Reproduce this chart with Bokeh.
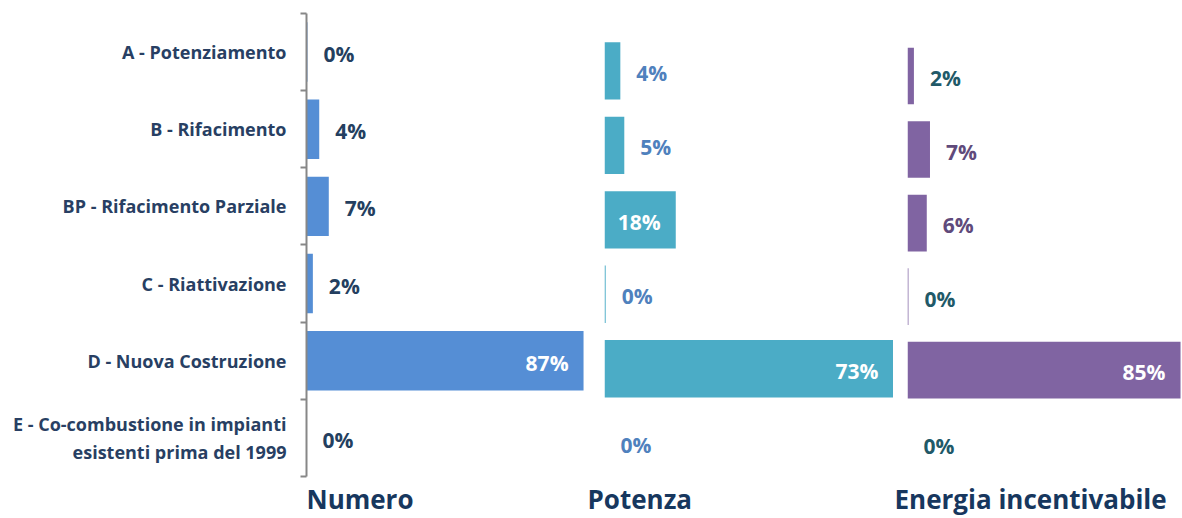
from bokeh.plotting import figure
from bokeh.models import ColumnDataSource, Range1d, LinearAxis, FixedTicker, Title
from bokeh.layouts import row
from bokeh.core.properties import value
from bokeh.embed import file_html
from bokeh.resources import INLINE

# ---------------- data ----------------
categories = [
    "A - Potenziamento",
    "B - Rifacimento",
    "BP - Rifacimento Parziale",
    "C - Riattivazione",
    "D - Nuova Costruzione",
    "E - Co-combustione in impianti\nesistenti prima del 1999",
]
numero = [0.3, 4, 7, 2, 87, 0]
potenza = [4, 5, 18, 0.3, 73, 0]
energia = [2, 7, 6, 0.3, 85, 0]
panel_titles = ["Numero", "Potenza", "Energia incentivabile"]

# ---------------- styles ----------------
FONT = "Open Sans"
CAT_COLOR = "#283f63"
TITLE_COLOR = "#17375e"
AXIS_COLOR = "#878787"
numero_label_colors = ["#243f60"] * 6
potenza_label_colors = ["#4f81bd"] * 6
energia_label_colors = ["#215968", "#604a7b", "#604a7b", "#215968", "#215968", "#215968"]
INSIDE_MIN = 15

N = len(categories)
# category slot (top to bottom): first category in the top band
slot = [N - i - 0.5 for i in range(N)]

FRAME_TOP = 13
FRAME_H = 467
BORDER_BOTTOM = 34


def make_panel(vals, title, bar_color, label_colors, frame_w, xmax, yr,
               b_left, title_offset, with_axis):
    p = figure(y_range=Range1d(*yr), x_range=Range1d(0, xmax),
               frame_width=frame_w, frame_height=FRAME_H,
               min_border_left=b_left, min_border_right=0,
               min_border_top=FRAME_TOP, min_border_bottom=BORDER_BOTTOM,
               output_backend="svg", toolbar_location=None,
               x_axis_location=None, y_axis_location=None)
    p.outline_line_color = None
    p.grid.visible = False
    p.background_fill_color = "white"
    p.border_fill_color = "white"

    src = ColumnDataSource(dict(y=slot, val=vals))
    p.hbar(y="y", left=0, right="val", height=0.77, source=src,
           fill_color=bar_color, line_color=None)

    labels = [f"{round(v)}%" for v in vals]
    out_idx = [i for i, v in enumerate(vals) if v < INSIDE_MIN]
    in_idx = [i for i, v in enumerate(vals) if v >= INSIDE_MIN]
    out_src = ColumnDataSource(dict(
        y=[slot[i] for i in out_idx],
        val=[vals[i] for i in out_idx],
        label=[labels[i] for i in out_idx],
        color=[label_colors[i] for i in out_idx]))
    in_src = ColumnDataSource(dict(
        y=[slot[i] for i in in_idx],
        val=[vals[i] for i in in_idx],
        label=[labels[i] for i in in_idx]))
    p.text(x="val", y="y", text="label", source=out_src, x_offset=16, y_offset=2,
           text_align="left", text_baseline="middle", text_color="color",
           text_font=value(FONT), text_font_style="bold", text_font_size="21px")
    p.text(x="val", y="y", text="label", source=in_src, x_offset=-15, y_offset=2,
           text_align="right", text_baseline="middle", text_color="white",
           text_font=value(FONT), text_font_style="bold", text_font_size="21px")

    if with_axis:
        overrides = {slot[i]: c for i, c in enumerate(categories)}
        ax = LinearAxis(ticker=FixedTicker(ticks=sorted(slot),
                                           minor_ticks=list(range(N + 1))),
                        major_label_overrides=overrides, bounds=(0, N))
        ax.major_tick_out = 0
        ax.major_tick_in = 0
        ax.minor_tick_out = 6
        ax.minor_tick_in = 0
        ax.minor_tick_line_color = AXIS_COLOR
        ax.minor_tick_line_width = 2
        ax.axis_line_color = AXIS_COLOR
        ax.axis_line_width = 2
        ax.major_label_standoff = 14
        ax.major_label_text_font = FONT
        ax.major_label_text_font_style = "bold"
        ax.major_label_text_font_size = "18px"
        ax.major_label_text_color = CAT_COLOR
        p.add_layout(ax, "left")

    t = Title(text=title, align="left", offset=title_offset, standoff=0,
              vertical_align="top",
              text_font=FONT, text_font_size="26px", text_font_style="bold",
              text_color=TITLE_COLOR)
    p.add_layout(t, "below")
    return p


p1 = make_panel(numero, panel_titles[0], "#558ed5", numero_label_colors,
                278, 87.3, (-0.052, 6), 306, 0, True)
p2 = make_panel(potenza, panel_titles[1], "#4bacc6", potenza_label_colors,
                289, 73.0, (0, 6.27), 20, -17, False)
p3 = make_panel(energia, panel_titles[2], "#8064a2", energia_label_colors,
                274, 85.3, (0, 6.35), 14, -13, False)

layout = row(p1, p2, p3)
open("out.html", "w").write(file_html(layout, INLINE))
